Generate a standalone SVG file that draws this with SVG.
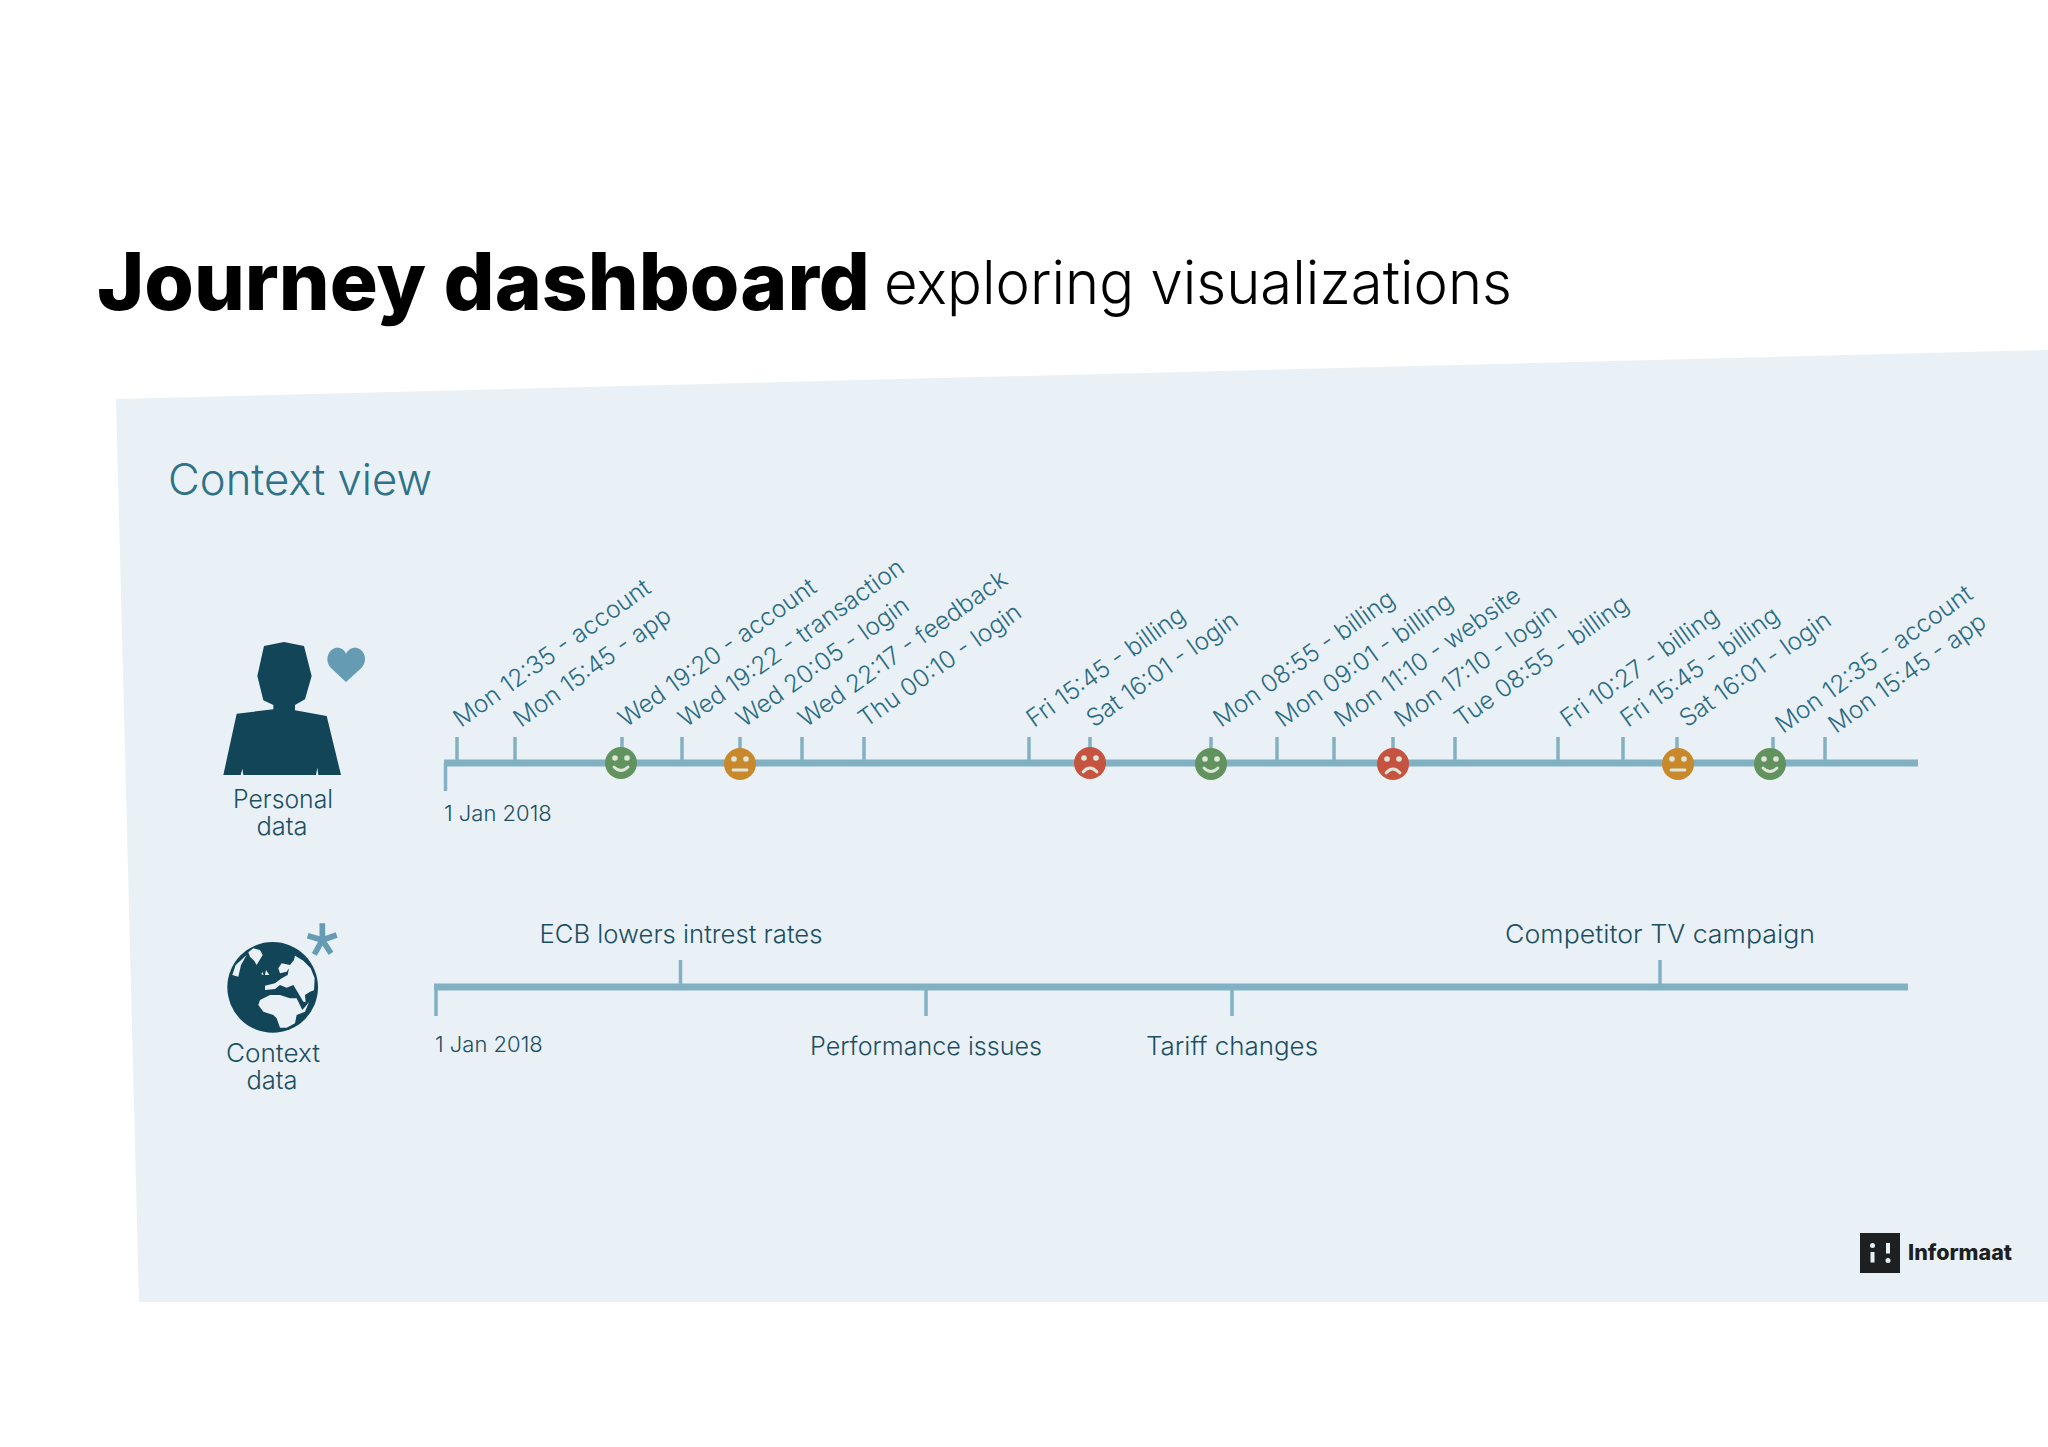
<svg xmlns="http://www.w3.org/2000/svg" xmlns:xlink="http://www.w3.org/1999/xlink" width="2048" height="1447" viewBox="0 0 2048 1447">
<style>
text{font-family:"Inter","Liberation Sans",sans-serif}
.t{font-size:24.500px;fill:#2b6b82;font-weight:300}
.l{font-size:25.500px;fill:#1c4f62;font-weight:300}
.d{font-size:22px;fill:#1c4f62;font-weight:300}
.c{text-anchor:middle}
.axis{stroke:#82b1c4;stroke-width:7;fill:none}
.tick{stroke:#82b1c4;stroke-width:3.500;fill:none}
.dark{fill:#134559}
.acc{fill:#659cb3}
.f{fill:#dde6d8}
.m{stroke:#dde6d8;stroke-width:2.800;fill:none;stroke-linecap:round}
</style>
<defs>
<g id="happy"><circle r="16" fill="#62935f"/><circle class="f" cx="-6" cy="-5" r="2.800"/><circle class="f" cx="6" cy="-5" r="2.800"/><path class="m" d="M-7 4Q0 11 7 4"/></g>
<g id="neutral"><circle r="16" fill="#c8892d"/><circle class="f" cx="-6" cy="-5" r="2.800"/><circle class="f" cx="6" cy="-5" r="2.800"/><path class="m" d="M-7 6H7"/></g>
<g id="sad"><circle r="16" fill="#c6533f"/><circle class="f" cx="-6" cy="-5" r="2.800"/><circle class="f" cx="6" cy="-5" r="2.800"/><path class="m" d="M-7 9Q0 1 7 9"/></g>
</defs>
<rect width="2048" height="1447" fill="#fff"/>
<polygon id="panel" points="116,399 2048,350 2048,1302 139,1302" fill="#e9f1f7"/>
<g id="title">
<text x="97" y="310" font-size="80" font-weight="800" fill="#000" textLength="773" lengthAdjust="spacingAndGlyphs">Journey dashboard</text>
<text x="884" y="304" font-size="60" font-weight="300" fill="#000" textLength="628" lengthAdjust="spacingAndGlyphs">exploring visualizations</text>
</g>
<text id="view-title" x="168" y="495" font-size="43" font-weight="300" fill="#2f7287" textLength="264" lengthAdjust="spacingAndGlyphs">Context view</text>
<g id="connectors">
<path class="axis" d="M444 763H1918"/>
<path class="tick" d="M445.500 763V791"/>
<path class="tick" d="M457 737V760M515 737V760M622 737V760M682 737V760M740 737V760M802 737V760M864 737V760M1029 737V760M1090 737V760M1211 737V760M1277 737V760M1334 737V760M1393 737V760M1455 737V760M1558 737V760M1623 737V760M1677 737V760M1773 737V760M1825 737V760"/>
<path class="axis" d="M434 987H1908"/>
<path class="tick" d="M436 987V1016M680.500 960V985M926 989V1016M1232 989V1016M1660 960V985"/>
</g>
<g id="personal-node">
<g transform="translate(180,601) scale(.33333)">
<polygon class="dark" points="312,123 372,135 395,225 375,295 345,312 345,328 440,345 483,522 415,522 412,500 408,522 190,522 187,503 182,522 130,522 170,338 280,325 280,312 250,298 232,225 252,135"/>
<path class="acc" d="M498 243L452 200C430 172 450 140 472 140C485 140 495 148 498 158C503 148 512 140 525 140C548 140 568 172 545 200Z"/>
</g>
<text class="l c" x="283" y="808" textLength="100" lengthAdjust="spacingAndGlyphs">Personal</text><text class="l c" x="282" y="835">data</text>
</g>
<g id="context-node">
<g transform="translate(215,915) scale(.33333)">
<circle class="dark" cx="173" cy="217" r="136"/>
<g fill="#e9f1f7">
<polygon points="115,100 135,105 143,120 125,150 118,138 105,125 100,112"/>
<polygon points="95,120 78,150 70,185 52,180 62,150"/>
<polygon points="153,165 163,180 150,180"/>
<polygon points="142,170 146,180 139,178"/>
<polygon points="240,122 237,135 225,150 200,145 190,160 195,175 215,170 222,160 218,180 200,190 180,205 150,212 150,225 180,222 195,210 215,218 235,210 250,235 265,260 272,262 270,240 285,230 297,226 299,190 287,160 265,137"/>
<polygon points="135,255 165,240 195,240 225,250 245,250 262,285 282,262 270,290 245,300 240,325 215,338 195,338 185,310 175,300 145,290 130,270"/>
<polygon points="262,322 270,320 258,338"/>
</g>
<path fill="none" stroke="#659cb3" stroke-width="17" d="M322 75V25M322 75L365 60M322 75L348 115M322 75L298 118M322 75L278 62"/>
</g>
<text class="l c" x="273" y="1062" textLength="94" lengthAdjust="spacingAndGlyphs">Context</text><text class="l c" x="272" y="1089">data</text>
</g>
<g id="events">
<text class="t" transform="translate(461,728) rotate(-35.500)">Mon 12:35 - account</text>
<text class="t" transform="translate(521,728) rotate(-35.500)">Mon 15:45 - app</text>
<text class="t" transform="translate(626,728) rotate(-35.500)">Wed 19:20 - account</text>
<text class="t" transform="translate(686,728) rotate(-35.500)">Wed 19:22 - transaction</text>
<text class="t" transform="translate(744,728) rotate(-35.500)">Wed 20:05 - login</text>
<text class="t" transform="translate(806,728) rotate(-35.500)">Wed 22:17 - feedback</text>
<text class="t" transform="translate(866,728) rotate(-35.500)">Thu 00:10 - login</text>
<text class="t" transform="translate(1034,728) rotate(-35.500)">Fri 15:45 - billing</text>
<text class="t" transform="translate(1094,728) rotate(-35.500)">Sat 16:01 - login</text>
<text class="t" transform="translate(1221,728) rotate(-35.500)">Mon 08:55 - billing</text>
<text class="t" transform="translate(1283,728) rotate(-35.500)">Mon 09:01 - billing</text>
<text class="t" transform="translate(1342,728) rotate(-35.500)">Mon 11:10 - website</text>
<text class="t" transform="translate(1402,728) rotate(-35.500)">Mon 17:10 - login</text>
<text class="t" transform="translate(1462,728) rotate(-35.500)">Tue 08:55 - billing</text>
<text class="t" transform="translate(1568,728) rotate(-35.500)">Fri 10:27 - billing</text>
<text class="t" transform="translate(1628,728) rotate(-35.500)">Fri 15:45 - billing</text>
<text class="t" transform="translate(1687,728) rotate(-35.500)">Sat 16:01 - login</text>
<text class="t" transform="translate(1783,734) rotate(-35.500)">Mon 12:35 - account</text>
<text class="t" transform="translate(1836,734) rotate(-35.500)">Mon 15:45 - app</text>
<use xlink:href="#happy" href="#happy" x="621" y="763"/>
<use xlink:href="#neutral" href="#neutral" x="740" y="764"/>
<use xlink:href="#sad" href="#sad" x="1090" y="763"/>
<use xlink:href="#happy" href="#happy" x="1211" y="764"/>
<use xlink:href="#sad" href="#sad" x="1393" y="764"/>
<use xlink:href="#neutral" href="#neutral" x="1678" y="764"/>
<use xlink:href="#happy" href="#happy" x="1770" y="764"/>
<text class="d" x="444" y="821">1 Jan 2018</text>
</g>
<g id="context-events">
<text class="l c" x="681" y="943" textLength="283" lengthAdjust="spacingAndGlyphs">ECB lowers intrest rates</text>
<text class="l c" x="926" y="1055" textLength="232" lengthAdjust="spacingAndGlyphs">Performance issues</text>
<text class="l c" x="1232" y="1055" textLength="172" lengthAdjust="spacingAndGlyphs">Tariff changes</text>
<text class="l c" x="1660" y="943" textLength="310" lengthAdjust="spacingAndGlyphs">Competitor TV campaign</text>
<text class="d" x="435" y="1052">1 Jan 2018</text>
</g>
<g id="logo">
<rect x="1860" y="1233" width="40" height="40" fill="#1d1f21"/>
<circle cx="1872.500" cy="1245.500" r="2.500" fill="#e9f1f7"/><rect x="1870.500" y="1252" width="4" height="10.500" fill="#e9f1f7"/>
<rect x="1886" y="1243" width="4" height="10.500" fill="#e9f1f7"/><circle cx="1888" cy="1260.500" r="2.500" fill="#e9f1f7"/>
<text x="1908" y="1260" font-size="21" font-weight="800" fill="#1d1f21" textLength="104" lengthAdjust="spacingAndGlyphs">Informaat</text>
</g>
</svg>
